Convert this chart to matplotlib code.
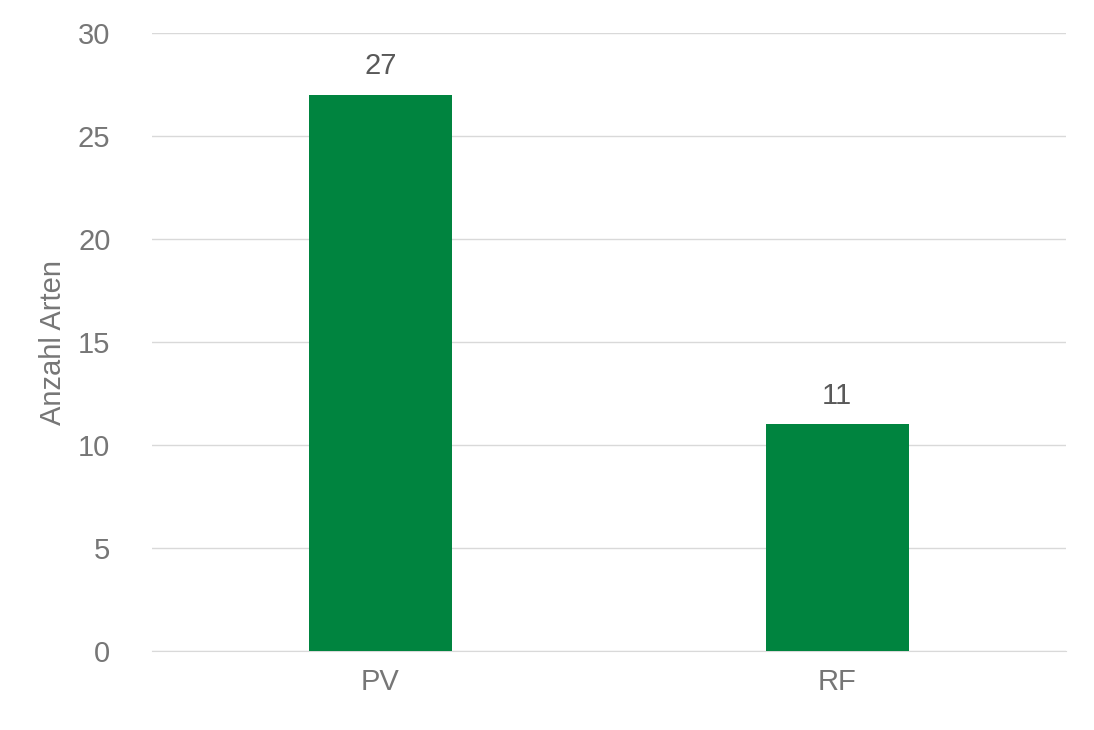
import matplotlib.pyplot as plt

categories = ['PV', 'RF']
values = [27, 11]
yticks = [0, 5, 10, 15, 20, 25, 30]

bar_color = '#00843F'
text_color = '#767676'

plt.rcParams['font.family'] = ['Liberation Sans', 'DejaVu Sans']

fig = plt.figure(figsize=(10.94, 7.3), dpi=100)
ax = fig.add_axes([0.139, 0.108, 0.835, 0.847])

x = range(len(categories))
bars = ax.bar(x, values, width=0.313, color=bar_color, zorder=3)
for b, v in zip(bars, values):
    ax.text(b.get_x() + b.get_width() / 2, v + 0.7, str(v), ha='center', va='bottom',
            fontsize=21, color='#595959')

ax.set_xlim(-0.5, 1.5)
ax.set_ylim(0, 30)
ax.set_yticks(yticks)
ax.set_xticks(list(x))
ax.set_xticklabels(categories)
ax.grid(axis='y', color='#D9D9D9', linewidth=1, zorder=0)
ax.tick_params(axis='both', length=0, labelsize=21, labelcolor=text_color, pad=12)
ax.tick_params(axis='y', pad=30)
for s in ['top', 'right', 'left']:
    ax.spines[s].set_visible(False)
ax.spines['bottom'].set_color('#D9D9D9')
ax.set_ylabel('Anzahl Arten', fontsize=21, color=text_color, labelpad=8)

fig.savefig('out.png', dpi=100, facecolor='white')
